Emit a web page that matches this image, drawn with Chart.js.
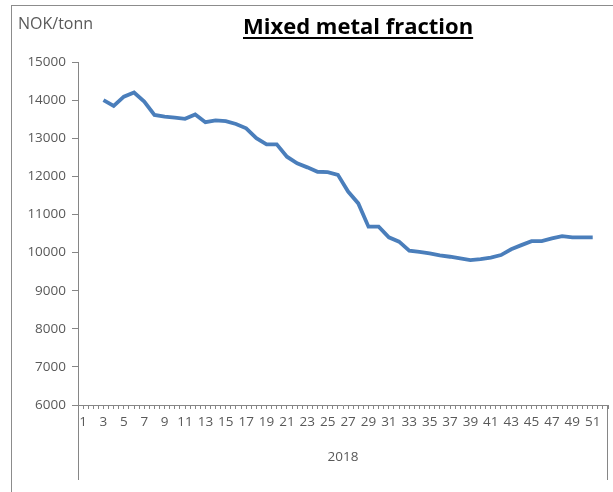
<!DOCTYPE html>
<html>
<head>
<meta charset="utf-8">
<script src="https://cdn.jsdelivr.net/npm/chart.js@4"></script>
<style>
  html, body { margin: 0; padding: 0; background: #ffffff; }
  #wrap { position: relative; width: 613px; height: 492px; overflow: hidden; }
  #frame {
    position: absolute; left: 11px; top: 5px; width: 700px; height: 600px;
    border-left: 1px solid #8c8c8c; border-top: 1px solid #8c8c8c;
  }
  #unit {
    position: absolute; left: 18px; top: 15px; font: 16px/16px "Open Sans", sans-serif;
    color: #595959; white-space: nowrap;
  }
  #title {
    position: absolute; left: 243px; top: 14px; font: bold 22px/23px "Open Sans", sans-serif;
    color: #000000; text-decoration: underline; text-decoration-thickness: 2px;
    text-underline-offset: 3px; white-space: nowrap;
  }
  canvas { position: absolute; left: 0; top: 0; }
</style>
</head>
<body>
<div id="wrap">
  <div id="frame"></div>
  <canvas id="chart" width="613" height="492"></canvas>
  <div id="unit">NOK/tonn</div>
  <div id="title">Mixed metal fraction</div>
</div>
<script>
// Weekly price for the mixed metal fraction, 2018 (NOK per tonne)
const weeks = [3, 4, 5, 6, 7, 8, 9, 10, 11, 12, 13, 14, 15, 16, 17, 18, 19, 20, 21, 22, 23, 24, 25, 26, 27,
               28, 29, 30, 31, 32, 33, 34, 35, 36, 37, 38, 39, 40, 41, 42, 43, 44, 45, 46, 47, 48, 49, 50, 51];
const prices = [14000, 13850, 14090, 14200, 13960, 13610, 13565, 13540, 13510, 13625, 13420, 13470, 13450,
                13375, 13260, 13000, 12840, 12840, 12515, 12340, 12235, 12120, 12110, 12040, 11600, 11290,
                10680, 10680, 10400, 10285, 10050, 10020, 9980, 9925, 9890, 9845, 9800, 9830, 9870, 9935,
                10085, 10195, 10300, 10300, 10370, 10430, 10400, 10400, 10400];
const xTickLabels = ['1', '3', '5', '7', '9', '11', '13', '15', '17', '19', '21', '23', '25', '27', '29',
                     '31', '33', '35', '37', '39', '41', '43', '45', '47', '49', '51'];
const yearLabel = '2018';

const axisColor = '#868686';
const textColor = '#595959';
const tickFont = { family: '"Open Sans", sans-serif', size: 13.5 };

// Extends the category separators below the axis, Excel-style grouped axis
const groupLines = {
  id: 'groupLines',
  afterDraw(chart) {
    const x = chart.scales.x;
    const ctx = chart.ctx;
    ctx.save();
    ctx.strokeStyle = axisColor;
    ctx.lineWidth = 1;
    ctx.beginPath();
    const l = Math.round(x.left) + 0.5;
    ctx.moveTo(l, chart.chartArea.bottom);
    ctx.lineTo(l, x.bottom);
    const r = Math.round(x.right) - 0.5;
    ctx.moveTo(r, chart.chartArea.bottom);
    ctx.lineTo(r, x.bottom);
    ctx.stroke();
    ctx.restore();
  }
};

new Chart(document.getElementById('chart'), {
  type: 'line',
  data: {
    datasets: [{
      data: weeks.map((w, i) => ({ x: w, y: prices[i] })),
      borderColor: '#4a7ebb',
      borderWidth: 3.8,
      pointRadius: 0,
      tension: 0,
      fill: false
    }]
  },
  options: {
    responsive: false,
    devicePixelRatio: 1,
    animation: false,
    layout: { padding: { top: 62, left: 0, right: 0, bottom: 12 } },
    plugins: { legend: { display: false }, tooltip: { enabled: false } },
    scales: {
      x: {
        type: 'linear',
        min: 0.5,
        max: 52.5,
        afterFit(scale) { scale.height = 75; },
        border: { display: true, color: axisColor, width: 1 },
        grid: { drawOnChartArea: false, drawTicks: true, tickLength: 4, color: axisColor },
        ticks: {
          stepSize: 0.5,
          autoSkip: false,
          maxRotation: 0,
          padding: 5,
          color: textColor,
          font: tickFont,
          callback: (v) => xTickLabels.includes(String(v)) ? String(v) : ''
        },
        title: {
          display: true,
          text: yearLabel,
          color: textColor,
          font: tickFont,
          padding: { top: 0, bottom: 15 }
        }
      },
      y: {
        min: 6000,
        max: 15000,
        afterFit(scale) { scale.width = 78; },
        border: { display: true, color: axisColor, width: 1 },
        grid: { drawOnChartArea: false, drawTicks: true, tickLength: 6, color: axisColor },
        ticks: { stepSize: 1000, padding: 6, color: textColor, font: tickFont, callback: (v) => String(v) }
      }
    }
  },
  plugins: [groupLines]
});
</script>
</body>
</html>
